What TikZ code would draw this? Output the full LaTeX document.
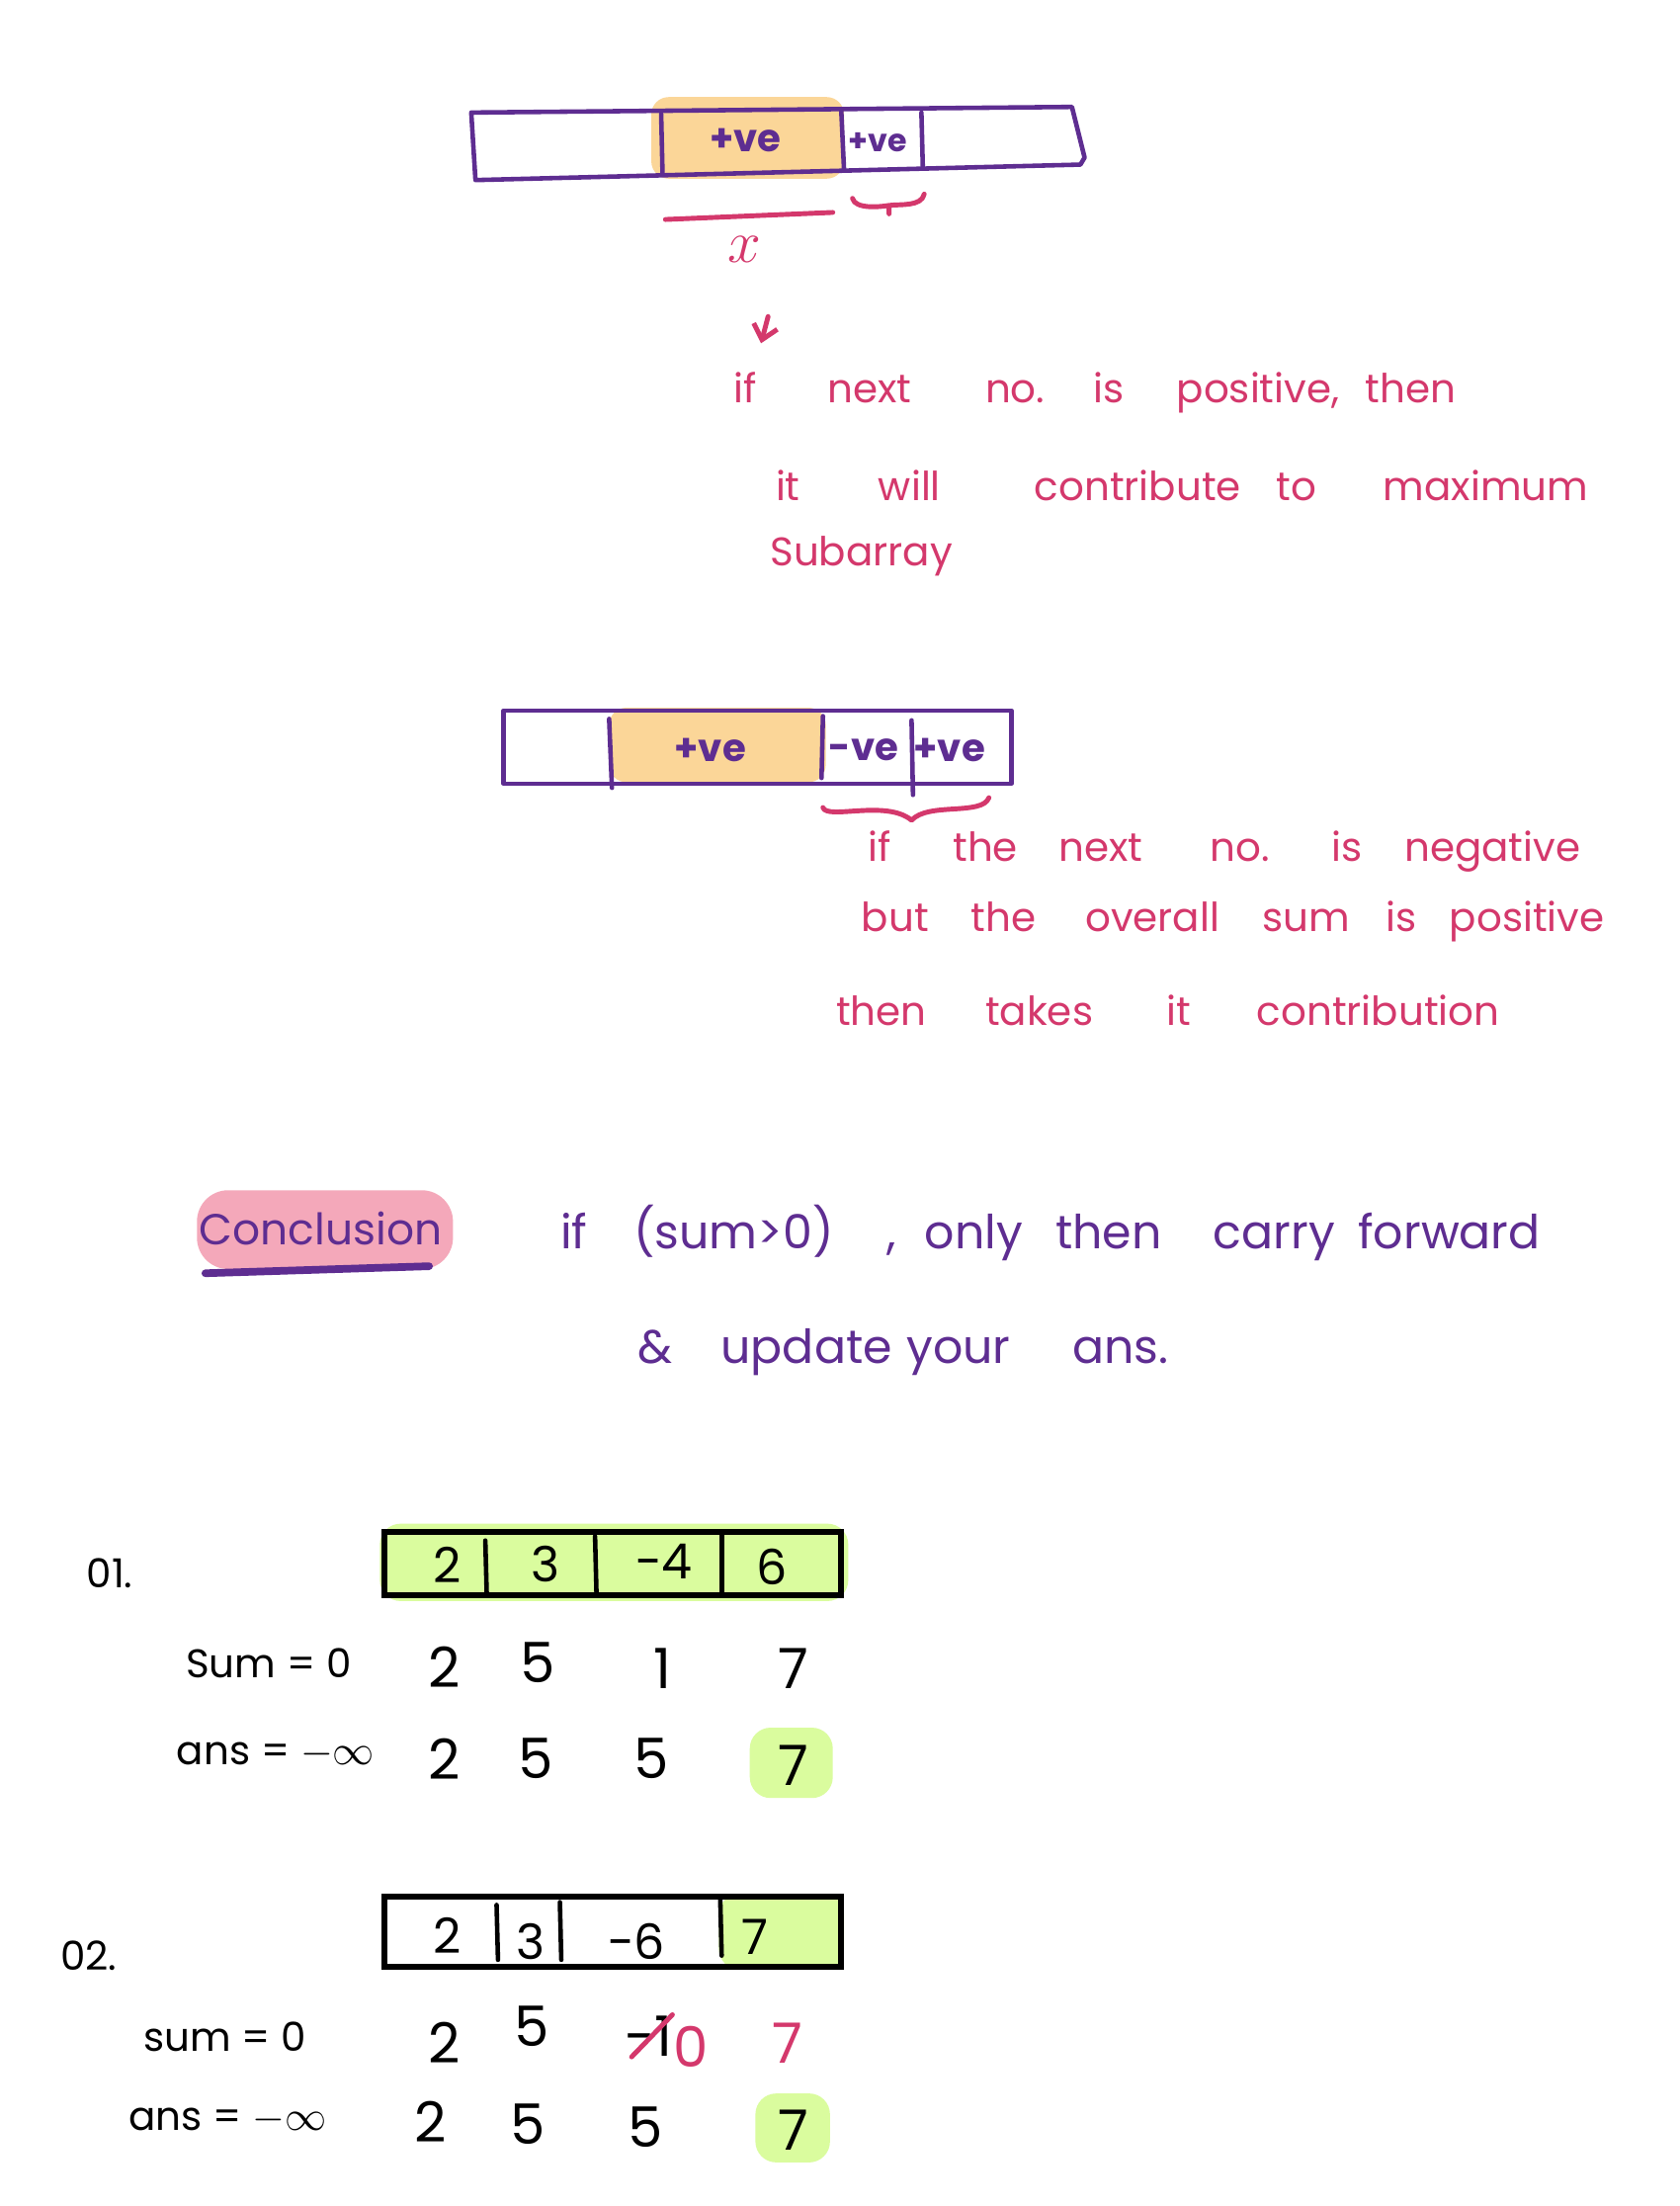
\documentclass[tikz,border=0pt]{standalone}
\usepackage{fontspec}
\setmainfont{Poppins}
\usetikzlibrary{arrows.meta}
\definecolor{purp}{RGB}{94,45,145}
\definecolor{pinkc}{RGB}{212,56,108}
\definecolor{orangeh}{RGB}{251,214,152}
\definecolor{pinkh}{RGB}{244,168,186}
\definecolor{greenh}{RGB}{218,252,158}
\newlength\ulen
\setlength\ulen{0.014238cm}
\newcommand\hwword[2]{\makebox[#1\ulen][l]{#2}}
\begin{document}
\begin{tikzpicture}[x=0.014238cm,y=-0.014238cm,
  purpline/.style={draw=purp,line width=1.3pt,line cap=round,line join=round},
  pinkline/.style={draw=pinkc,line width=1.4pt,line cap=round,line join=round},
  blackline/.style={draw=black,line width=1.7pt,line join=miter},
  divider/.style={draw=black,line width=1.3pt,line cap=round},
  ptext/.style={text=pinkc,font=\fontsize{11.5}{14}\selectfont,anchor=west,inner sep=0pt},
  vtext/.style={text=purp,font=\fontsize{13.5}{16}\selectfont,anchor=west,inner sep=0pt},
  celltext/.style={text=purp,font=\fontsize{11}{13}\selectfont\bfseries,inner sep=0pt},
  num/.style={text=black,font=\fontsize{16}{18}\selectfont,inner sep=0pt},
  cnum/.style={text=black,font=\fontsize{14}{16}\selectfont,inner sep=0pt},
  lbl/.style={text=black,font=\fontsize{11.5}{14}\selectfont,inner sep=0pt},
  ohl/.style={fill=orangeh,rounded corners=5pt},
  ghl/.style={fill=greenh,rounded corners=6pt}]
\useasboundingbox[fill=white] (0,0) rectangle (1194,1568);

% ---------- top array ----------
\fill[ohl] (463,69) rectangle (600,127);
\draw[purpline] (335,80) -- (762,76) -- (771,112) -- (768,117) -- (338,128) -- cycle;
\draw[purpline] (470,81) -- (471,124);
\draw[purpline] (598,78) -- (600,121);
\draw[purpline] (655,80) -- (656,119);
\node[celltext] (t1) at (530,100) {+ve};
\node[celltext,font=\fontsize{9}{11}\selectfont\bfseries] (t2) at (624,101) {+ve};
\draw[pinkline] (473,156) -- (592,151);
\draw[pinkline] (606,141) .. controls (608,149) and (626,147) .. (632,146) -- (632,152)
      (632,146) .. controls (640,145) and (655,147) .. (657,138);
\node[text=pinkc,font=\fontsize{16}{18}\selectfont,inner sep=0pt] (xl) at (529,177) {$x$};
\coordinate (a1) at (546,225);
\coordinate (a2) at (541,244);
\draw[pinkline,-{Straight Barb[length=4pt,width=7pt]}] (a1) -- (a2);

\node[ptext] (p1) at (521,279) {\hwword{67}{if}\hwword{112}{next}\hwword{77}{no.}\hwword{59}{is}\hwword{134}{positive,}then};
\node[ptext] (p2) at (551,345) {\hwword{73}{it}\hwword{111}{will}\hwword{172}{contribute}\hwword{76}{to}maximum};
\node[ptext] (p3) at (547,395) {Subarray};

% ---------- second array ----------
\fill[ohl] (433,503) rectangle (587,556);
\draw[purpline] (358,505) rectangle (719,557);
\draw[purpline] (433,511) -- (435,560);
\draw[purpline] (585,509) -- (584,553);
\draw[purpline] (648,512) -- (649,565);
\node[celltext] (s1) at (505,533) {+ve};
\node[celltext] (s2) at (614,533) {-ve};
\node[celltext] (s3) at (675,533) {+ve};
\draw[pinkline] (585,574) .. controls (588,583) and (630,568) .. (648,583)
      .. controls (660,570) and (698,580) .. (703,567);

\node[ptext] (q1) at (617,605) {\hwword{60}{if}\hwword{75}{the}\hwword{108}{next}\hwword{86}{no.}\hwword{52}{is}negative};
\node[ptext] (q2) at (612,655) {\hwword{78}{but}\hwword{81}{the}\hwword{126}{overall}\hwword{88}{sum}\hwword{45}{is}positive};
\node[ptext] (q3) at (594,718) {\hwword{106}{then}\hwword{129}{takes}\hwword{64}{it}contribution};

% ---------- conclusion ----------
\fill[pinkh,rounded corners=9pt] (140,846) rectangle (322,902);
\node[text=purp,font=\fontsize{12.5}{15}\selectfont,inner sep=0pt] (con) at (228,873) {Conclusion};
\draw[purp,line width=2.2pt,line cap=round] (146,905) -- (305,900);
\node[vtext] (r1) at (398,876) {\hwword{52}{if}\hwword{180}{(sum>0)}\hwword{27}{,}\hwword{93}{only}\hwword{112}{then}\hwword{103}{carry}forward};
\node[vtext] (r2) at (453,961) {\hwword{59}{\&}\hwword{132}{update}\hwword{118}{your}ans.};

% ---------- example 01 ----------
\node[lbl] (e1) at (78,1118) {01.};
\fill[ghl] (270,1083) rectangle (603,1138);
\draw[blackline] (273,1089) rectangle (598,1134);
\draw[divider] (345,1095) -- (346,1133);
\draw[divider] (423,1092) -- (424,1132);
\draw[divider] (513,1090) -- (513,1132);
\node[cnum] (c11) at (318,1112) {2};
\node[cnum] (c12) at (388,1112) {3};
\node[cnum] (c13) at (472,1110) {−4};
\node[cnum] (c14) at (549,1114) {6};
\node[lbl] (sum1) at (191,1182) {Sum = 0};
\node[num] (s11) at (316,1185) {2};
\node[num] (s12) at (382,1182) {5};
\node[num] (s13) at (471,1186) {1};
\node[num] (s14) at (564,1186) {7};
\node[lbl] (ans1) at (196,1247) {ans = $-\infty$};
\node[num] (a11) at (316,1250) {2};
\node[num] (a12) at (381,1250) {5};
\node[num] (a13) at (463,1250) {5};
\fill[ghl] (533,1228) rectangle (592,1278);
\node[num] (a14) at (564,1255) {7};

% ---------- example 02 ----------
\node[lbl] (e2) at (63,1390) {02.};
\fill[ghl] (511,1346) rectangle (600,1400);
\draw[blackline] (273,1348) rectangle (598,1398);
\draw[divider] (353,1354) -- (354,1393);
\draw[divider] (398,1352) -- (399,1393);
\draw[divider] (512,1350) -- (513,1390);
\node[cnum] (c21) at (318,1376) {2};
\node[cnum] (c22) at (377,1380) {3};
\node[cnum] (c23) at (452,1380) {−6};
\node[cnum] (c24) at (537,1377) {7};
\node[lbl] (sum2) at (160,1448) {sum = 0};
\node[num] (s21) at (316,1452) {2};
\node[num] (s22) at (378,1440) {5};
\node[num] (s23) at (461,1447) {−1};
\draw[pinkline] (449,1462) -- (478,1432);
\node[num,text=pinkc] (s23b) at (491,1455) {0};
\node[num,text=pinkc] (s24) at (560,1452) {7};
\node[lbl] (ans2) at (162,1507) {ans = $-\infty$};
\node[num] (a21) at (306,1508) {2};
\node[num] (a22) at (375,1510) {5};
\node[num] (a23) at (459,1512) {5};
\fill[ghl] (537,1488) rectangle (590,1537);
\node[num] (a24) at (564,1514) {7};
\end{tikzpicture}
\end{document}
